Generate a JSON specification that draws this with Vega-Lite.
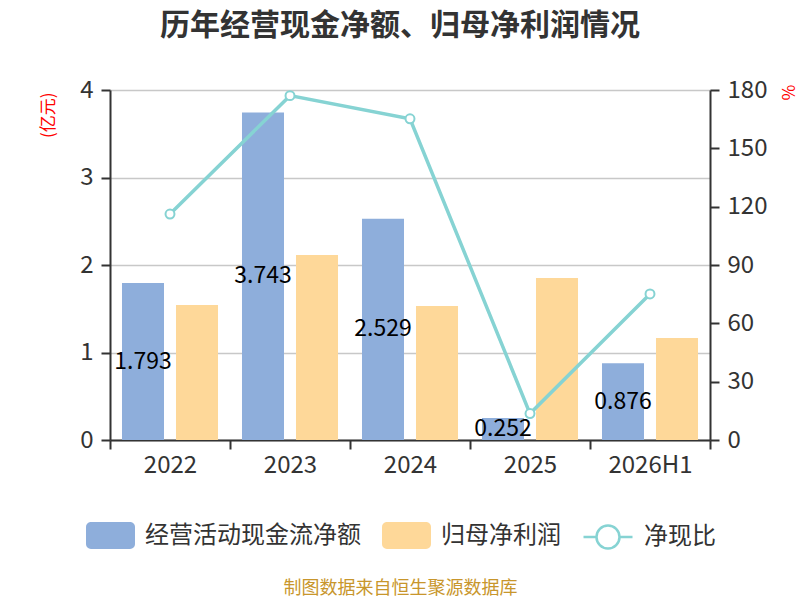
{
  "$schema": "https://vega.github.io/schema/vega-lite/v6.json",
  "width": 600,
  "height": 350,
  "autosize": "none",
  "padding": {"left": 110, "top": 90, "right": 90, "bottom": 160},
  "background": "white",
  "title": {
    "text": "历年经营现金净额、归母净利润情况",
    "font": "Noto Sans CJK SC",
    "fontSize": 30,
    "fontWeight": "bold",
    "color": "#333333",
    "anchor": "middle",
    "dx": -10,
    "offset": 22,
    "baseline": "middle"
  },
  "datasets": {
    "bars": [
      {"year": "2022", "series": "经营活动现金流净额", "value": 1.793},
      {"year": "2022", "series": "归母净利润", "value": 1.543},
      {"year": "2023", "series": "经营活动现金流净额", "value": 3.743},
      {"year": "2023", "series": "归母净利润", "value": 2.114},
      {"year": "2024", "series": "经营活动现金流净额", "value": 2.529},
      {"year": "2024", "series": "归母净利润", "value": 1.531},
      {"year": "2025", "series": "经营活动现金流净额", "value": 0.252},
      {"year": "2025", "series": "归母净利润", "value": 1.851},
      {"year": "2026H1", "series": "经营活动现金流净额", "value": 0.876},
      {"year": "2026H1", "series": "归母净利润", "value": 1.166}
    ],
    "ratio": [
      {"year": "2022", "series": "净现比", "ratio": 116.2},
      {"year": "2023", "series": "净现比", "ratio": 177.1},
      {"year": "2024", "series": "净现比", "ratio": 165.2},
      {"year": "2025", "series": "净现比", "ratio": 13.6},
      {"year": "2026H1", "series": "净现比", "ratio": 75.1}
    ]
  },
  "layer": [
    {
      "data": {"name": "bars"},
      "mark": {"type": "bar"},
      "encoding": {
        "x": {
          "field": "year", "type": "nominal",
          "scale": {"domain": ["2022", "2023", "2024", "2025", "2026H1"], "paddingInner": 0, "paddingOuter": 0},
          "axis": {
            "title": "制图数据来自恒生聚源数据库",
            "titleColor": "#C8962C",
            "titleFont": "Noto Sans CJK SC",
            "titleFontSize": 18,
            "titleFontWeight": "normal",
            "titleX": 290,
            "titleY": 148,
            "titleAlign": "center",
            "titleBaseline": "middle",
            "labelAngle": 0,
            "tickBand": "extent",
            "labelPadding": 4,
            "grid": false
          }
        },
        "xOffset": {
          "field": "series", "type": "nominal",
          "scale": {"domain": ["经营活动现金流净额", "归母净利润"], "paddingInner": 0.222, "paddingOuter": 0.222}
        },
        "y": {
          "field": "value", "type": "quantitative",
          "scale": {"domain": [0, 4], "nice": false},
          "axis": {
            "orient": "left",
            "values": [0, 1, 2, 3, 4],
            "grid": true,
            "gridColor": "#c8c8c8",
            "gridWidth": 1.5,
            "labelPadding": 8,
            "title": "(亿元)",
            "titleColor": "#ff0000",
            "titleFont": "Noto Sans CJK SC",
            "titleFontSize": 17,
            "titleFontWeight": "normal",
            "titleAngle": 270,
            "titleX": -62,
            "titleY": 2,
            "titleAlign": "right",
            "titleBaseline": "middle"
          }
        },
        "color": {
          "field": "series", "type": "nominal",
          "scale": {"domain": ["经营活动现金流净额", "归母净利润"], "range": ["#8eaedb", "#fed899"]},
          "legend": {
            "orient": "none",
            "legendX": -24,
            "legendY": 421,
            "direction": "horizontal",
            "title": null,
            "padding": 0,
            "symbolType": "M-0.8,-0.55H0.8A0.2,0.2 0 0 1 1,-0.35V0.35A0.2,0.2 0 0 1 0.8,0.55H-0.8A0.2,0.2 0 0 1 -1,0.35V-0.35A0.2,0.2 0 0 1 -0.8,-0.55Z",
            "symbolSize": 2401,
            "symbolStrokeWidth": 0,
            "symbolOpacity": 1,
            "labelFont": "Noto Sans CJK SC",
            "labelFontSize": 24,
            "labelColor": "#333333",
            "labelOffset": 10,
            "labelLimit": 400,
            "columnPadding": 21
          }
        }
      }
    },
    {
      "data": {"name": "bars"},
      "transform": [{"filter": "datum.series === '经营活动现金流净额'"}],
      "mark": {"type": "text", "font": "Noto Sans CJK SC", "fontSize": 23, "color": "#000000", "baseline": "middle", "align": "center"},
      "encoding": {
        "x": {"field": "year", "type": "nominal"},
        "xOffset": {"field": "series", "type": "nominal"},
        "y": {"field": "value", "type": "quantitative", "scale": {"domain": [0, 8], "nice": false}, "axis": null},
        "text": {"field": "value", "type": "quantitative", "format": ".3f"}
      }
    },
    {
      "data": {"name": "ratio"},
      "mark": {
        "type": "line",
        "strokeWidth": 3.5,
        "point": {"filled": false, "fill": "white", "size": 80, "strokeWidth": 2}
      },
      "encoding": {
        "x": {"field": "year", "type": "nominal"},
        "y": {
          "field": "ratio", "type": "quantitative",
          "scale": {"domain": [0, 180], "nice": false},
          "axis": {
            "orient": "right",
            "values": [0, 30, 60, 90, 120, 150, 180],
            "grid": false,
            "labelPadding": 8,
            "title": "%",
            "titleColor": "#ff0000",
            "titleFont": "Noto Sans CJK SC",
            "titleFontSize": 17,
            "titleFontWeight": "normal",
            "titleAngle": 90,
            "titleX": 76,
            "titleY": 2,
            "titleAlign": "center",
            "titleBaseline": "middle"
          }
        },
        "stroke": {
          "field": "series", "type": "nominal",
          "scale": {"domain": ["净现比"], "range": ["#86d3d3"]},
          "legend": {
            "orient": "none",
            "legendX": 472,
            "legendY": 421,
            "direction": "horizontal",
            "title": null,
            "padding": 0,
            "symbolType": "M-1,0H-0.47M0.47,0H1M0.47,0A0.47,0.47 0 1 1 -0.47,0A0.47,0.47 0 1 1 0.47,0Z",
            "symbolSize": 2401,
            "symbolStrokeWidth": 2.5,
            "symbolFillColor": "white",
            "symbolStrokeColor": "#86d3d3",
            "labelFont": "Noto Sans CJK SC",
            "labelFontSize": 24,
            "labelColor": "#333333",
            "labelOffset": 10,
            "labelLimit": 400
          }
        }
      }
    }
  ],
  "resolve": {"scale": {"y": "independent"}},
  "config": {
    "view": {"stroke": null},
    "font": "Noto Sans CJK SC",
    "axis": {
      "domainColor": "#333333",
      "domainWidth": 2,
      "tickColor": "#333333",
      "tickWidth": 2,
      "tickSize": 9,
      "labelColor": "#333333",
      "labelFont": "Noto Sans CJK SC",
      "labelFontSize": 24
    }
  }
}
